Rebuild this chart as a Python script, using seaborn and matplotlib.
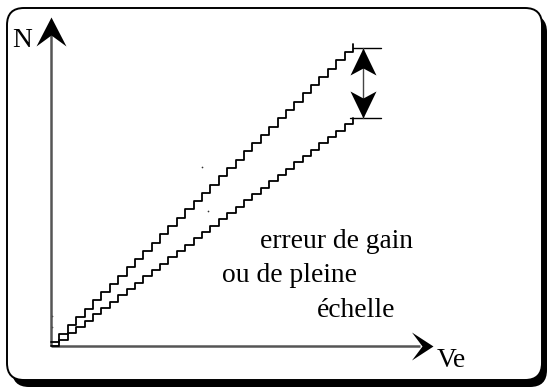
import numpy as np
import matplotlib
matplotlib.use("Agg")
import matplotlib.pyplot as plt
from matplotlib.patches import FancyBboxPatch
from matplotlib.path import Path
import seaborn as sns

# transfer characteristic of the converter: code N vs input Ve (in LSB units)
ve = list(range(37))
n_ideal = [0.5, 1.5, 2.5, 3.5, 4.5, 5.5, 6.5, 7.5, 8.5, 9.5, 10.5, 11.5,
           12.5, 13.5, 14.5, 15.5, 16.5, 17.5, 18.5, 19.5, 20.5, 21.5, 22.5,
           23.5, 24.5, 25.5, 26.5, 27.5, 28.5, 29.5, 30.5, 31.5, 32.5, 33.5,
           34.5, 35.5, 36.5]
n_gain = [0.0, 0.77, 1.53, 2.30, 3.06, 3.83, 4.59, 5.36, 6.12, 6.89, 7.65,
          8.42, 9.18, 9.95, 10.71, 11.48, 12.24, 13.01, 13.77, 14.54, 15.30,
          16.07, 16.83, 17.60, 18.36, 19.13, 19.89, 20.66, 21.42, 22.19,
          22.95, 23.72, 24.48, 25.25, 26.01, 26.78, 27.54]
# stray specks of the scanned original
speck_ve = [18.0, 18.7, 0.1, 0.1]
speck_n = [21.6, 16.3, 3.6, 2.3]

labels = ["erreur de gain", "ou de pleine", "échelle"]

W, H = 547, 387
X0, Y0 = 51, 346        # origin in pixels
SX, SY = 8.39, 8.28     # pixels per unit
AXIS_TOP, AXIS_RIGHT = 39.7, 45.5

sns.set_theme(style="white")
plt.rcParams["font.family"] = ["Liberation Serif", "DejaVu Serif"]

fig = plt.figure(figsize=(W / 100, H / 100), dpi=100)
fig.patch.set_facecolor("white")

# background axes in pixel units for frame and text
bg = fig.add_axes([0, 0, 1, 1])
bg.set_xlim(0, W)
bg.set_ylim(H, 0)
bg.axis("off")
bg.add_patch(FancyBboxPatch((12, 15), 535, 372, boxstyle="round,pad=0,rounding_size=17",
                            fc="black", ec="black", lw=0))
bg.add_patch(FancyBboxPatch((7, 8), 535, 372, boxstyle="round,pad=0,rounding_size=17",
                            fc="white", ec="black", lw=1.4))

fs = 19.8
bg.text(12, 47, "N", fontsize=fs, ha="left", va="baseline", color="black")
bg.text(437, 367, "Ve", fontsize=fs, ha="left", va="baseline", color="black")
bg.text(260, 248, labels[0], fontsize=fs, ha="left", va="baseline", color="black")
bg.text(222, 282, labels[1], fontsize=fs, ha="left", va="baseline", color="black")
bg.text(317, 317, labels[2], fontsize=fs, ha="left", va="baseline", color="black")

# data axes mapped onto the same pixels
ax = fig.add_axes([0, 0, 1, 1])
ax.patch.set_alpha(0)
ax.set_xlim(-X0 / SX, (W - X0) / SX)
ax.set_ylim(-(H - Y0) / SY, Y0 / SY)
ax.axis("off")

axis_col = "#555555"
ax.plot([0, 0], [0, AXIS_TOP - 1.5], color=axis_col, lw=1.8, solid_capstyle="butt")
ax.plot([0, AXIS_RIGHT - 1.5], [0, 0], color=axis_col, lw=1.8, solid_capstyle="butt")

sns.lineplot(x=ve, y=n_ideal, drawstyle="steps-post", color="black", lw=1.3,
             estimator=None, ax=ax)
sns.lineplot(x=ve, y=n_gain, drawstyle="steps-post", color="black", lw=1.3,
             estimator=None, ax=ax)


def head(verts):
    return Path(verts + [verts[0]], closed=True)


up_big = head([(0, 0), (-15, -29), (0, -18), (15, -29)])
right_big = head([(0, 0), (-21.5, 14), (-11, 0), (-21.5, -14)])
up_small = head([(0, 0), (-13, -27), (0, -20), (13, -27)])
down_small = head([(0, 0), (-13, 27), (0, 20), (13, 27)])

px2pt = 0.72
ax.plot([0], [AXIS_TOP], marker=up_big, ms=2 * 29 * px2pt, color="black", mew=0)
ax.plot([AXIS_RIGHT], [0], marker=right_big, ms=2 * 21.5 * px2pt, color="black", mew=0)

# gain-error dimension
top = n_ideal[-1] - 0.5
bot = n_gain[-1]
xa = ve[-1] + 1.2
ax.plot([ve[-1], ve[-1] + 3.3], [top, top], color="black", lw=1.0)
ax.plot([ve[-1] - 0.4, ve[-1] + 3.3], [bot, bot], color="black", lw=1.0)
ax.plot([xa, xa], [top, bot], color="#444444", lw=1.0)
ax.plot([xa], [top], marker=up_small, ms=2 * 27 * px2pt, color="black", mew=0)
ax.plot([xa], [bot], marker=down_small, ms=2 * 27 * px2pt, color="black", mew=0)

ax.scatter(speck_ve, speck_n, s=1.5, color="#333333", linewidths=0)

fig.savefig("out.png", dpi=100)
